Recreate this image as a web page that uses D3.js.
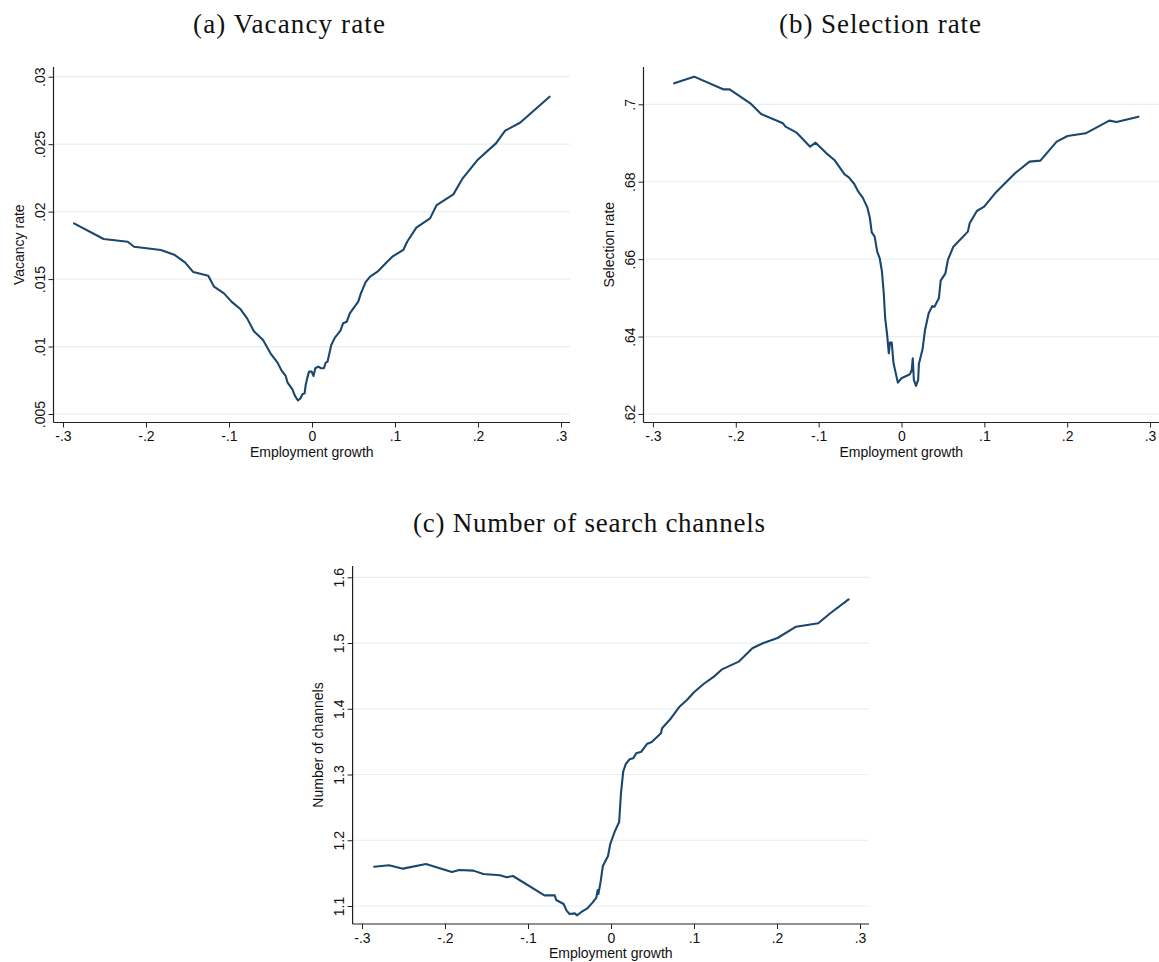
<!DOCTYPE html>
<html>
<head>
<meta charset="utf-8">
<script src="https://cdn.jsdelivr.net/npm/d3@7"></script>
<style>
  html, body { margin: 0; padding: 0; background: #fff; }
  svg { display: block; }
</style>
</head>
<body>
<svg id="chart" width="1159" height="962"></svg>
<script>
// ---------- Data ----------
const vacX = [-0.2867,-0.251,-0.222,-0.2144,-0.182,-0.166,-0.153,-0.143,-0.125,-0.118,-0.106,-0.097,-0.086,-0.078,-0.070,-0.059,-0.050,-0.0415,-0.037,-0.0317,-0.0294,-0.0236,-0.0205,-0.0169,-0.0138,-0.0116,-0.0089,-0.0076,-0.0058,-0.0036,-0.0004,0.0018,0.004,0.0076,0.011,0.0143,0.0165,0.0187,0.0232,0.0276,0.0343,0.0374,0.0419,0.0455,0.0557,0.0589,0.0646,0.070,0.0789,0.090,0.0967,0.110,0.1146,0.1257,0.1422,0.1502,0.1703,0.1815,0.1993,0.2216,0.2327,0.2506,0.2862];
const vacY = [0.01913,0.01797,0.01777,0.0174,0.01716,0.01681,0.01624,0.01552,0.01525,0.01444,0.01394,0.01333,0.01276,0.01207,0.01113,0.01049,0.0095,0.00881,0.00826,0.00782,0.00732,0.00683,0.00634,0.0060,0.00617,0.00646,0.00653,0.00715,0.00764,0.00814,0.00814,0.00782,0.00839,0.00851,0.00839,0.00839,0.00881,0.00888,0.01012,0.01066,0.01118,0.01172,0.01184,0.01246,0.01333,0.01394,0.01478,0.01518,0.01555,0.01624,0.01666,0.01716,0.01777,0.01881,0.0195,0.02049,0.02128,0.02247,0.02382,0.02506,0.026,0.02659,0.02852];

const selX = [-0.2744,-0.2503,-0.2153,-0.2074,-0.1825,-0.1694,-0.1431,-0.140,-0.1265,-0.1103,-0.1037,-0.0906,-0.081,-0.0687,-0.0635,-0.057,-0.0521,-0.0468,-0.0411,-0.0381,-0.0359,-0.0324,-0.0293,-0.0263,-0.0236,-0.0214,-0.0197,-0.0175,-0.0153,-0.014,-0.0118,-0.0096,-0.0044,0.0,0.0101,0.0123,0.0136,0.0149,0.0175,0.0201,0.021,0.0254,0.0284,0.0328,0.0372,0.0398,0.0451,0.0473,0.053,0.056,0.0626,0.0801,0.0823,0.091,0.0998,0.1129,0.137,0.1545,0.1676,0.1873,0.2004,0.2223,0.2508,0.2595,0.286];
const selY = [0.70542,0.70715,0.70387,0.70387,0.70026,0.6975,0.69509,0.69423,0.69268,0.68906,0.6901,0.68734,0.68562,0.68192,0.68114,0.67942,0.67744,0.67589,0.6733,0.67055,0.66693,0.66581,0.66194,0.66022,0.65677,0.65117,0.64472,0.64084,0.63568,0.63843,0.63843,0.63309,0.6281,0.62922,0.63025,0.63137,0.63438,0.62879,0.62724,0.62879,0.63292,0.63671,0.6417,0.64601,0.6479,0.64773,0.64988,0.65444,0.65634,0.65979,0.66323,0.66711,0.66926,0.67244,0.67356,0.67701,0.68218,0.68519,0.68545,0.69036,0.69182,0.69251,0.69578,0.69544,0.69681];

const chX = [-0.2853,-0.2675,-0.2506,-0.2229,-0.1917,-0.1828,-0.1658,-0.1538,-0.1337,-0.1257,-0.1181,-0.0802,-0.0678,-0.066,-0.0571,-0.0535,-0.0499,-0.0437,-0.041,-0.0357,-0.029,-0.0223,-0.0178,-0.016,-0.0152,-0.0125,-0.0098,-0.0036,-0.0009,0.0045,0.0098,0.012,0.0147,0.0178,0.0223,0.0267,0.0303,0.0366,0.0432,0.049,0.0602,0.0615,0.0713,0.0825,0.0914,0.1003,0.1115,0.124,0.1338,0.1538,0.1703,0.1828,0.2006,0.2229,0.2497,0.263,0.2862];
const chY = [1.1598,1.1619,1.1568,1.1639,1.1517,1.1548,1.1538,1.1487,1.1467,1.1436,1.1456,1.1162,1.1162,1.1091,1.103,1.0929,1.0878,1.0888,1.0858,1.0909,1.0959,1.1051,1.1122,1.1243,1.1183,1.137,1.1609,1.1761,1.1943,1.2131,1.2278,1.2714,1.3044,1.316,1.3231,1.3246,1.3322,1.3348,1.3464,1.3495,1.3627,1.3703,1.384,1.4032,1.4134,1.4256,1.4377,1.4489,1.46,1.4717,1.492,1.4996,1.5077,1.5249,1.53,1.5442,1.5665];

const xTicks = [-0.3,-0.2,-0.1,0,0.1,0.2,0.3];
const xTickLabels = ["-.3","-.2","-.1","0",".1",".2",".3"];
const vacTicks = [0.005,0.01,0.015,0.02,0.025,0.03];
const vacTickLabels = [".005",".01",".015",".02",".025",".03"];
const selTicks = [0.62,0.64,0.66,0.68,0.70];
const selTickLabels = [".62",".64",".66",".68",".7"];
const chTicks = [1.1,1.2,1.3,1.4,1.5,1.6];
const chTickLabels = ["1.1","1.2","1.3","1.4","1.5","1.6"];

const titles = ["(a) Vacancy rate","(b) Selection rate","(c) Number of search channels"];
const yTitles = ["Vacancy rate","Selection rate","Number of channels"];
const xTitle = "Employment growth";

// ---------- Drawing ----------
const svg = d3.select("#chart");
const LINE = "#1a476f", GRID = "#e7eff2", AXIS = "#222";

function panel(cfg) {
  const x = d3.scaleLinear().domain(cfg.xDomain).range([cfg.left, cfg.right]);
  const y = d3.scaleLinear().domain(cfg.yDomain).range([cfg.bottom, cfg.top]);
  const g = svg.append("g");

  // gridlines
  g.append("g").selectAll("line").data(cfg.yTicks).join("line")
    .attr("x1", cfg.left).attr("x2", cfg.right)
    .attr("y1", d => y(d)).attr("y2", d => y(d))
    .attr("stroke", GRID).attr("stroke-width", 1.2);

  // x axis
  const xAxis = d3.axisBottom(x).tickValues(xTicks)
    .tickFormat((d, i) => xTickLabels[i]).tickSize(5).tickPadding(4).tickSizeOuter(0);
  const gx = g.append("g").attr("transform", `translate(0,${cfg.bottom})`).call(xAxis);
  gx.select(".domain").attr("stroke", AXIS).attr("stroke-width", 1.2)
    .attr("d", `M${cfg.left},0H${cfg.right}`);
  gx.selectAll(".tick line").attr("stroke", AXIS);
  gx.selectAll(".tick text").attr("font-family", "'Liberation Sans', Arial, sans-serif")
    .attr("font-size", 14).attr("fill", "#111");

  // y axis
  const yAxis = d3.axisLeft(y).tickValues(cfg.yTicks)
    .tickFormat((d, i) => cfg.yTickLabels[i]).tickSize(5).tickPadding(4).tickSizeOuter(0);
  const gy = g.append("g").attr("transform", `translate(${cfg.left},0)`).call(yAxis);
  gy.select(".domain").attr("stroke", AXIS).attr("stroke-width", 1.2)
    .attr("d", `M0,${cfg.top}V${cfg.bottom}`);
  gy.selectAll(".tick line").attr("stroke", AXIS);
  gy.selectAll(".tick text")
    .attr("font-family", "'Liberation Sans', Arial, sans-serif")
    .attr("font-size", 14).attr("fill", "#111")
    .attr("x", null).attr("dy", null)
    .attr("text-anchor", "middle")
    .attr("transform", "translate(-9,0) rotate(-90)");

  // axis titles
  g.append("text").attr("x", (cfg.left + cfg.right) / 2)
    .attr("y", cfg.bottom + 34)
    .attr("text-anchor", "middle")
    .attr("font-family", "'Liberation Sans', Arial, sans-serif")
    .attr("font-size", 14).attr("fill", "#111").text(xTitle);

  g.append("text")
    .attr("transform", `translate(${cfg.left - 30},${(cfg.top + cfg.bottom) / 2}) rotate(-90)`)
    .attr("text-anchor", "middle")
    .attr("font-family", "'Liberation Sans', Arial, sans-serif")
    .attr("font-size", 14).attr("fill", "#111").text(cfg.yTitle);

  // panel title
  g.append("text").attr("x", cfg.titleX).attr("y", cfg.titleY)
    .attr("text-anchor", "middle")
    .attr("font-family", "'Liberation Serif', 'Times New Roman', serif")
    .attr("font-size", 27).attr("fill", "#111")
    .attr("textLength", cfg.titleW).attr("lengthAdjust", "spacing")
    .text(cfg.title);

  // data line
  const pts = cfg.xs.map((v, i) => [v, cfg.ys[i]]);
  g.append("path").datum(pts)
    .attr("fill", "none").attr("stroke", LINE).attr("stroke-width", 2.1)
    .attr("stroke-linejoin", "round").attr("stroke-linecap", "round")
    .attr("d", d3.line().x(d => x(d[0])).y(d => y(d[1])));
}

panel({
  left: 53.5, right: 570, top: 67, bottom: 422.5,
  xDomain: [-0.3114, 0.3108], yDomain: [0.00437, 0.03072],
  yTicks: vacTicks, yTickLabels: vacTickLabels,
  xs: vacX, ys: vacY, yTitle: yTitles[0], title: titles[0],
  titleX: 289, titleY: 33, titleW: 192
});
panel({
  left: 643.5, right: 1159, top: 67, bottom: 422.5,
  xDomain: [-0.3114, 0.3108], yDomain: [0.6178, 0.70964],
  yTicks: selTicks, yTickLabels: selTickLabels,
  xs: selX, ys: selY, yTitle: yTitles[1], title: titles[1],
  titleX: 880, titleY: 33, titleW: 202
});
panel({
  left: 352.6, right: 869, top: 566, bottom: 924,
  xDomain: [-0.3113, 0.3108], yDomain: [1.0726, 1.6172],
  yTicks: chTicks, yTickLabels: chTickLabels,
  xs: chX, ys: chY, yTitle: yTitles[2], title: titles[2],
  titleX: 589, titleY: 532, titleW: 352
});
</script>
</body>
</html>
